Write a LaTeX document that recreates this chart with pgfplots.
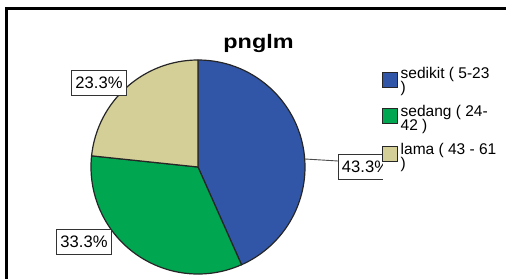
\documentclass[border=0pt]{standalone}
\usepackage{pgfplots}
\pgfplotsset{compat=1.18}
\usepackage{pgfplotstable}
\usepackage{fontspec}
\setmainfont{Liberation Sans}
\definecolor{cblue}{RGB}{50,86,167}
\definecolor{cgreen}{RGB}{0,166,80}
\definecolor{ctan}{RGB}{212,206,151}
\pgfplotstableread{
group count
sedikit 13
sedang 10
lama 7
}\piedata
\newcommand\legfont{\fontsize{15.5bp}{14bp}\selectfont}
\newcommand\pctfont{\fontsize{16.6bp}{18bp}\selectfont}
\newcommand\pct[1]{\pgfmathprintnumber[assume math mode=true,fixed,precision=1,fixed zerofill]{#1}\%}
\begin{document}
\begin{tikzpicture}
\pgfplotstablegetelem{0}{count}\of\piedata\edef\nA{\pgfplotsretval}
\pgfplotstablegetelem{1}{count}\of\piedata\edef\nB{\pgfplotsretval}
\pgfplotstablegetelem{2}{count}\of\piedata\edef\nC{\pgfplotsretval}
\pgfmathsetmacro\tot{\nA+\nB+\nC}
\pgfmathsetmacro\aA{90}
\pgfmathsetmacro\aB{\aA-360*\nA/\tot}
\pgfmathsetmacro\aC{\aB-360*\nB/\tot}
\pgfmathsetmacro\aD{\aC-360*\nC/\tot}
\pgfmathsetmacro\pA{100*\nA/\tot}
\pgfmathsetmacro\pB{100*\nB/\tot}
\pgfmathsetmacro\pC{100*\nC/\tot}
\path[use as bounding box, clip] (0bp,0bp) rectangle (506bp,279bp);
\fill[white] (-5bp,-5bp) rectangle (515bp,285bp);
\begin{axis}[anchor=origin, at={(0bp,0bp)}, x=1bp, y=1bp,
  xmin=0, xmax=506, ymin=0, ymax=279, hide axis, clip=false]
% frame
\draw[line width=2.7bp, black] (axis cs:6.3,-5) -- (axis cs:6.3,270.5) -- (axis cs:515,270.5);
% title
\node[anchor=base, inner sep=0pt] at (axis cs:258.5,231) {\scalebox{1.2}[1]{\fontsize{19.5bp}{22bp}\selectfont\bfseries pnglm}};
% pie slices
\draw[fill=cblue, draw=black!85, line width=1.2bp, line join=round] (axis cs:198,112) -- ++(\aA:107bp) arc[start angle=\aA, end angle=\aB, radius=107bp] -- cycle;
\draw[fill=cgreen, draw=black!85, line width=1.2bp, line join=round] (axis cs:198,112) -- ++(\aB:107bp) arc[start angle=\aB, end angle=\aC, radius=107bp] -- cycle;
\draw[fill=ctan, draw=black!85, line width=1.2bp, line join=round] (axis cs:198,112) -- ++(\aC:107bp) arc[start angle=\aC, end angle=\aD, radius=107bp] -- cycle;
% leader line
\draw[black!70, line width=0.9bp] (axis cs:305,120) -- (axis cs:338,118);
% percentage labels
\tikzset{pct/.style={draw=black!80, fill=white, line width=0.9bp, minimum width=54.5bp, minimum height=25bp, inner sep=0pt, font=\pctfont}}
\node[pct] at (axis cs:99,196.5) {\pct{\pC}};
\node[pct] at (axis cs:84,37.3) {\pct{\pB}};
\node[pct] at (axis cs:365.5,112) {\pct{\pA}};
% legend background
\fill[white] (axis cs:383,93) rectangle (axis cs:515,218);
% legend
\tikzset{sw/.style={draw=black!85, line width=0.9bp}, lt/.style={anchor=base west, inner sep=0pt, font=\legfont}}
\draw[sw, fill=cblue] (axis cs:382,207) rectangle (axis cs:397,192);
\node[lt] at (axis cs:400.5,201) {sedikit ( 5-23};
\node[lt] at (axis cs:400.5,186.5) {)};
\draw[sw, fill=cgreen] (axis cs:382,171) rectangle (axis cs:397,156);
\node[lt] at (axis cs:400.5,163) {sedang ( 24-};
\node[lt] at (axis cs:400.5,148.5) {42 )};
\draw[sw, fill=ctan] (axis cs:382,133) rectangle (axis cs:397,118);
\node[lt] at (axis cs:400.5,125) {lama ( 43 - 61};
\node[lt] at (axis cs:400.5,110.5) {)};
\end{axis}
\end{tikzpicture}
\end{document}
